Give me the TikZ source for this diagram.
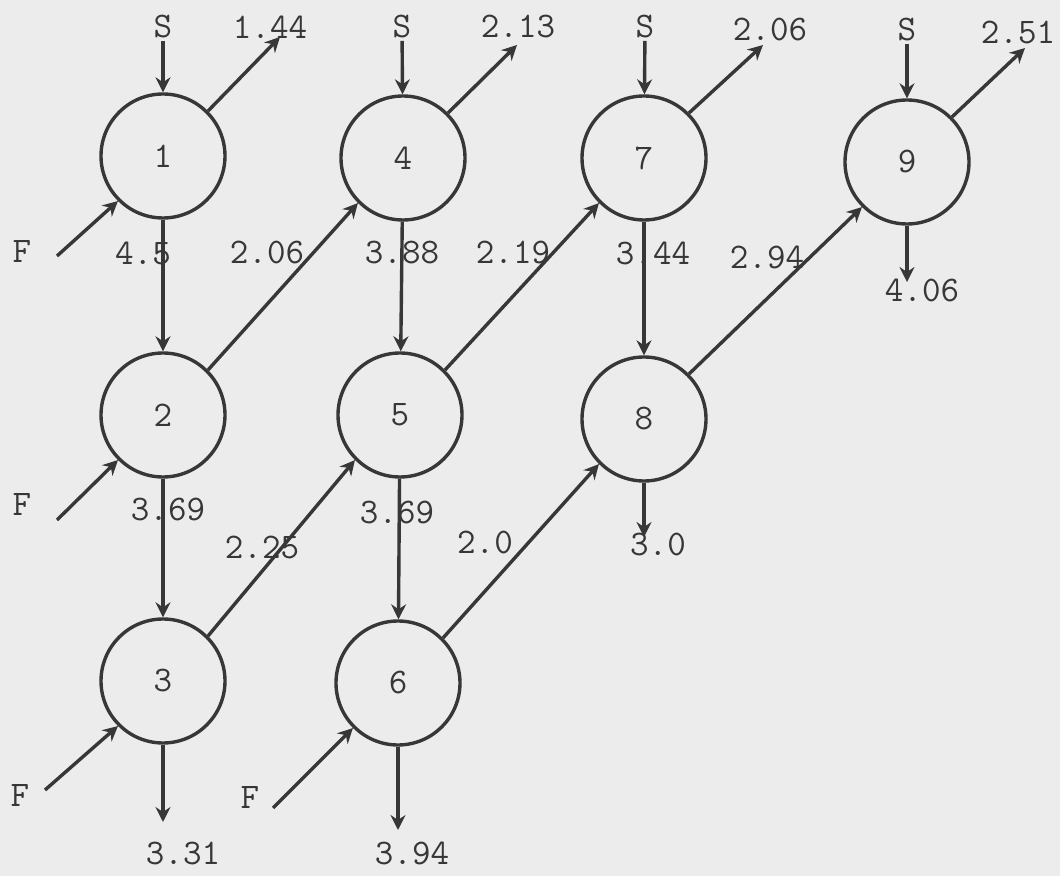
\documentclass[tikz,border=0pt]{standalone}
\usepackage{tikz}
\usetikzlibrary{arrows.meta}
\definecolor{paper}{RGB}{236,236,236}
\definecolor{ink}{RGB}{55,55,55}

\begin{document}
\begin{tikzpicture}[x=0.5pt,y=-0.5pt]
\tikzstyle{station} = [circle, draw=ink, line width=1.7pt, minimum size=62pt, inner sep=0pt, text=ink, font=\ttfamily\fontsize{18}{20}\selectfont]
\tikzstyle{tag} = [inner sep=1pt, text=ink, font=\ttfamily\fontsize{18}{20}\selectfont]
\tikzstyle{arrow} = [line width=1.7pt, draw=ink, -{Stealth[length=7.5pt,width=7.5pt,inset=2.5pt]}]

\fill[paper] (0,0) rectangle (1060,876);
\useasboundingbox (0,0) rectangle (1060,876);

% stations
\node (n1) [station] at (163,156) {1};
\node (n2) [station] at (163,415) {2};
\node (n3) [station] at (163,681) {3};
\node (n4) [station] at (403,158) {4};
\node (n5) [station] at (400,415) {5};
\node (n6) [station] at (398,683) {6};
\node (n7) [station] at (644,158) {7};
\node (n8) [station] at (644,419) {8};
\node (n9) [station] at (907,162) {9};

% supplies S and F
\node (s1) [tag] at (163,27) {S};
\node (s4) [tag] at (402,27) {S};
\node (s7) [tag] at (645,27) {S};
\node (s9) [tag] at (907,30) {S};
\node (f1) [tag] at (22,252) {F};
\node (f2) [tag] at (22,505) {F};
\node (f3) [tag] at (20,795) {F};
\node (f6) [tag] at (250,797) {F};
\coordinate (fin1) at (57,256);
\coordinate (fin2) at (57,520);
\coordinate (fin3) at (45,790);
\coordinate (fin6) at (273,808);

% outputs
\coordinate (out1) at (280,37);
\coordinate (out4) at (517,45);
\coordinate (out7) at (763,45);
\coordinate (out9) at (1025,48);
\coordinate (down3) at (163,822);
\coordinate (down6) at (398,830);
\coordinate (down8) at (644,537);
\coordinate (down9) at (907,282);
\node (v1) [tag] at (270,27) {1.44};
\node (v4) [tag] at (518,27) {2.13};
\node (v7) [tag] at (770,30) {2.06};
\node (v9) [tag] at (1018,33) {2.51};
\node (w3) [tag] at (183,853) {3.31};
\node (w6) [tag] at (412,853) {3.94};
\node (w8) [tag] at (658,545) {3.0};
\node (w9) [tag] at (922,290) {4.06};

% flow values
\node (e12) [tag] at (143,253) {4.5};
\node (e24) [tag] at (267,253) {2.06};
\node (e45) [tag] at (402,253) {3.88};
\node (e57) [tag] at (513,253) {2.19};
\node (e78) [tag] at (653,253) {3.44};
\node (e89) [tag] at (767,257) {2.94};
\node (e23) [tag] at (168,510) {3.69};
\node (e35) [tag] at (262,548) {2.25};
\node (e56) [tag] at (397,513) {3.69};
\node (e68) [tag] at (485,543) {2.0};

\draw [arrow] (s1) -- (n1);
\draw [arrow] (s4) -- (n4);
\draw [arrow] (s7) -- (n7);
\draw [arrow] (s9) -- (n9);
\draw [arrow] (fin1) -- (n1.225);
\draw [arrow] (fin2) -- (n2.225);
\draw [arrow] (fin3) -- (n3.225);
\draw [arrow] (fin6) -- (n6.225);
\draw [arrow] (n1.45) -- (out1);
\draw [arrow] (n4.45) -- (out4);
\draw [arrow] (n7.45) -- (out7);
\draw [arrow] (n9.45) -- (out9);
\draw [arrow] (n3) -- (down3);
\draw [arrow] (n6) -- (down6);
\draw [arrow] (n8) -- (down8);
\draw [arrow] (n9) -- (down9);
\draw [arrow] (n1) -- (n2);
\draw [arrow] (n2) -- (n3);
\draw [arrow] (n4) -- (n5);
\draw [arrow] (n5) -- (n6);
\draw [arrow] (n7) -- (n8);
\draw [arrow] (n2.45) -- (n4.225);
\draw [arrow] (n3.45) -- (n5.225);
\draw [arrow] (n5.45) -- (n7.225);
\draw [arrow] (n6.45) -- (n8.225);
\draw [arrow] (n8.45) -- (n9.225);
\end{tikzpicture}
\end{document}
